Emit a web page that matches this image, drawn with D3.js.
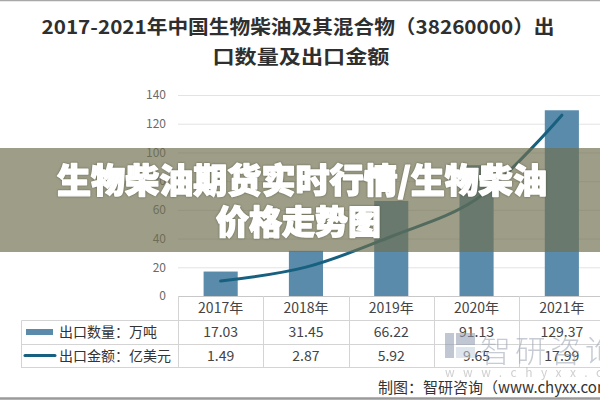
<!DOCTYPE html>
<html><head><meta charset="utf-8">
<script src="https://cdn.jsdelivr.net/npm/d3@7"></script>
<style>
html,body{margin:0;padding:0;background:#fff;}
svg{display:block;}
text{font-family:"Noto Sans CJK SC","Noto Sans",sans-serif;}
</style></head>
<body>
<svg id="c" width="600" height="400"></svg>
<script>
const titleLines = ["2017-2021年中国生物柴油及其混合物（38260000）出", "口数量及出口金额"];
const bannerLines = ["生物柴油期货实时行情/生物柴油", "价格走势图"];
const years = ["2017年", "2018年", "2019年", "2020年", "2021年"];
const exportQty = [17.03, 31.45, 66.22, 91.13, 129.37];
const exportValue = [1.49, 2.87, 5.92, 9.65, 17.99];
const qtyLabels = ["17.03", "31.45", "66.22", "91.13", "129.37"];
const valueLabels = ["1.49", "2.87", "5.92", "9.65", "17.99"];
const yTicks = [0, 20, 40, 60, 80, 100, 120, 140];
const seriesNames = ["出口数量：万吨", "出口金额：亿美元"];
const footer = "制图：智研咨询（www.chyxx.com）";

const svg = d3.select("#c");
const barColor = "#5a8bab", lineColor = "#17607f", gridColor = "#e3e3e3", tableLine = "#d4d4d4";

// borders
svg.append("rect").attr("x",0).attr("y",0).attr("width",600).attr("height",400).attr("fill","#fff");
svg.append("line").attr("x1",0).attr("x2",600).attr("y1",0.5).attr("y2",0.5).attr("stroke","#a8a8a8").attr("stroke-width",1.5);
svg.append("line").attr("x1",0).attr("x2",600).attr("y1",398.5).attr("y2",398.5).attr("stroke","#9a9a9a").attr("stroke-width",2.5);

// title
svg.append("text").attr("x",41.5).attr("y",34).attr("textLength",513).attr("lengthAdjust","spacingAndGlyphs")
  .attr("font-size",19).attr("font-weight","bold").attr("fill","#2f2f2f").text(titleLines[0]);
svg.append("text").attr("x",212.5).attr("y",64).attr("textLength",177).attr("lengthAdjust","spacingAndGlyphs")
  .attr("font-size",19).attr("font-weight","bold").attr("fill","#2f2f2f").text(titleLines[1]);

const x = d3.scaleBand().domain(years).range([178, 604.5]).paddingInner(0.6).paddingOuter(0.3);
const y = d3.scaleLinear().domain([0, 140]).range([296, 95]);
const y2 = d3.scaleLinear().domain([0, 20]).range([296, 95]);

// gridlines
svg.append("g").selectAll("line").data(yTicks.filter(d=>d>0)).join("line")
  .attr("x1",178).attr("x2",600).attr("y1",d=>y(d)+0.5).attr("y2",d=>y(d)+0.5)
  .attr("stroke",gridColor).attr("stroke-width",1);

// y axis labels
const yAxis = d3.axisLeft(y).tickValues(yTicks).tickSize(0).tickPadding(0);
const ga = svg.append("g").attr("transform","translate(166,0)").call(yAxis);
ga.select(".domain").remove();
ga.selectAll("text").attr("font-size",12).attr("fill","#6a6a6a").attr("font-family","'Open Sans','Noto Sans',sans-serif");

// bars
svg.append("g").selectAll("rect").data(years).join("rect")
  .attr("x",d=>x(d)).attr("width",x.bandwidth())
  .attr("y",(d,i)=>y(exportQty[i])).attr("height",(d,i)=>y(0)-y(exportQty[i]))
  .attr("fill",barColor);

// line
const line = d3.line().x((d,i)=>x(years[i])+x.bandwidth()/2).y(d=>y2(d)).curve(d3.curveCatmullRom.alpha(0.5));
svg.append("path").datum(exportValue).attr("d",line).attr("fill","none")
  .attr("stroke",lineColor).attr("stroke-width",3).attr("stroke-linecap","round");

// axis line
svg.append("line").attr("x1",178).attr("x2",600).attr("y1",296.5).attr("y2",296.5).attr("stroke","#c8c8c8");

// table
const step = x.step();
const bounds = years.map(d => x(d) + x.bandwidth()/2 - step/2);
bounds.push(x(years[4]) + x.bandwidth()/2 + step/2);
const tg = svg.append("g");
tg.selectAll("line.v").data(bounds).join("line").attr("class","v")
  .attr("x1",d=>Math.round(d)+0.5).attr("x2",d=>Math.round(d)+0.5).attr("y1",296).attr("y2",368)
  .attr("stroke",tableLine);
[320.5, 344.5, 367.5].forEach(yy=>{
  tg.append("line").attr("x1",21.5).attr("x2",600).attr("y1",yy).attr("y2",yy).attr("stroke",tableLine);
});
tg.append("line").attr("x1",21.5).attr("x2",21.5).attr("y1",320.5).attr("y2",368).attr("stroke",tableLine);

const cx = d => x(d) + x.bandwidth()/2;
tg.selectAll("text.yr").data(years).join("text").attr("class","yr")
  .attr("x",d=>cx(d)).attr("y",313).attr("text-anchor","middle").attr("font-size",14).attr("fill","#444").text(d=>d);
tg.selectAll("text.q").data(qtyLabels).join("text").attr("class","q")
  .attr("x",(d,i)=>cx(years[i])).attr("y",337).attr("text-anchor","middle").attr("font-size",14).attr("fill","#444").text(d=>d);
tg.selectAll("text.v").data(valueLabels).join("text").attr("class","v")
  .attr("x",(d,i)=>cx(years[i])).attr("y",361).attr("text-anchor","middle").attr("font-size",14).attr("fill","#444").text(d=>d);

// legend in table
tg.append("rect").attr("x",26).attr("y",329).attr("width",27).attr("height",6).attr("fill",barColor);
tg.append("line").attr("x1",25).attr("x2",55).attr("y1",355.5).attr("y2",355.5).attr("stroke",lineColor).attr("stroke-width",3).attr("stroke-linecap","round");
tg.append("text").attr("x",59).attr("y",337).attr("font-size",14).attr("fill","#333").text(seriesNames[0]);
tg.append("text").attr("x",59).attr("y",361).attr("font-size",14).attr("fill","#333").text(seriesNames[1]);

// watermark
const wm = svg.append("g").attr("opacity",0.55);
wm.append("rect").attr("x",445).attr("y",333).attr("width",9).attr("height",25).attr("fill","#8e9bb0");
wm.append("rect").attr("x",456).attr("y",333).attr("width",19).attr("height",12).attr("fill","#8e9bb0");
wm.append("rect").attr("x",456).attr("y",347).attr("width",19).attr("height",11).attr("fill","#c6d0de");
wm.append("text").attr("x",480).attr("y",362).attr("font-size",31).attr("letter-spacing",4).attr("fill","#9aa3b1").attr("font-weight",300).text("智研咨询");
wm.append("text").attr("x",445).attr("y",377).attr("font-size",12).attr("letter-spacing",8.5).attr("fill","#a8a8a8").attr("font-family","'DejaVu Sans',sans-serif").text("www.chyxx.com");

// footer
svg.append("text").attr("x",378).attr("y",393).attr("font-size",15).attr("fill","#333").text(footer);

// banner overlay
svg.append("rect").attr("x",0).attr("y",148).attr("width",600).attr("height",104)
  .attr("fill","rgb(112,112,80)").attr("opacity",0.68);
const bt = svg.append("g").attr("fill","#fff").attr("font-weight",900).attr("text-anchor","middle")
  .attr("stroke","#fff").attr("stroke-width",1.4).attr("stroke-linejoin","round")
  .style("filter","drop-shadow(0px 0px 1px rgba(60,60,40,0.6))");
bt.append("text").attr("x",302).attr("y",192.5).attr("font-size",34).attr("textLength",490).attr("lengthAdjust","spacingAndGlyphs").text(bannerLines[0]);
bt.append("text").attr("x",298.5).attr("y",233.5).attr("font-size",33).text(bannerLines[1]);
</script>
</body></html>
